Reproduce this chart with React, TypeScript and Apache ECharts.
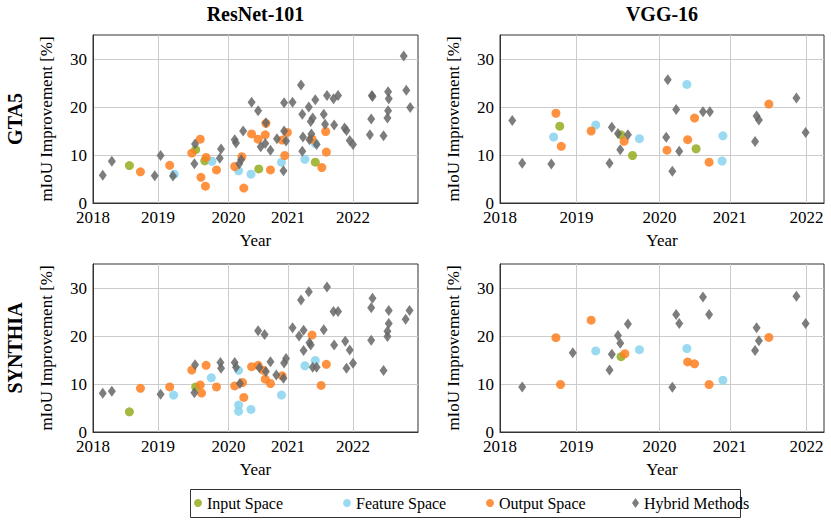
import React, { useEffect, useRef } from "react";
import * as echarts from "echarts";

const categories = ["Input Space", "Feature Space", "Output Space", "Hybrid Methods"];
const colors = ["#93ad1e", "#87d3ef", "#ff7f1e", "#666666"];
const modelTitles = ["ResNet-101", "VGG-16"];
const datasetTitles = ["GTA5", "SYNTHIA"];
const xTickValues = [2018, 2019, 2020.083, 2021, 2022];
const yTickValues = [0, 10, 20, 30];

// ResNet-101 / GTA5
const resGtaInput = [[2018.56, 7.8], [2019.58, 11.1], [2019.72, 8.8], [2020.55, 7.1], [2021.42, 8.5]];
const resGtaFeature = [[2019.25, 6.0], [2019.83, 8.7], [2020.24, 6.7], [2020.43, 6.0], [2020.9, 8.5], [2021.26, 9.1], [2021.42, 12.4]];
const resGtaOutput = [[2018.73, 6.5], [2019.18, 7.85], [2019.52, 10.4], [2019.65, 13.3], [2019.74, 9.5], [2019.66, 5.35], [2019.73, 3.5], [2019.9, 6.9], [2020.18, 7.6], [2020.29, 9.65], [2020.32, 3.1], [2020.44, 14.4], [2020.54, 13.3], [2020.65, 14.2], [2020.66, 16.6], [2020.73, 6.9], [2020.91, 13.1], [2020.99, 14.7], [2020.95, 9.9], [2021.37, 13.3], [2021.58, 14.9], [2021.59, 10.6], [2021.52, 7.4]];
const resGtaHybrid = [[2018.15, 5.8], [2018.29, 8.7], [2018.95, 5.7], [2019.04, 9.9], [2019.23, 5.6], [2019.56, 8.2], [2019.57, 12.3], [2019.97, 11.25], [2019.95, 9.3], [2020.18, 13.2], [2020.2, 12.5], [2020.28, 9.0], [2020.25, 8.2], [2020.31, 15.0], [2020.44, 21.0], [2020.54, 19.2], [2020.66, 16.7], [2020.58, 11.7], [2020.65, 12.4], [2020.73, 11.0], [2020.83, 13.4], [2020.94, 20.9], [2021.07, 21.0], [2020.94, 15.0], [2020.97, 12.9], [2020.93, 6.7], [2021.2, 24.6], [2021.32, 20.0], [2021.22, 18.5], [2021.42, 21.5], [2021.35, 17.0], [2021.38, 17.7], [2021.23, 13.75], [2021.36, 14.4], [2021.33, 13.2], [2021.44, 12.2], [2021.55, 18.5], [2021.57, 16.4], [2021.6, 22.4], [2021.7, 21.7], [2021.71, 16.25], [2021.22, 10.8], [2021.77, 22.4], [2021.87, 15.6], [2021.9, 15.1], [2021.95, 13.0], [2022.0, 12.2], [2022.26, 14.2], [2022.28, 17.5], [2022.29, 22.4], [2022.3, 22.2], [2022.47, 14.0], [2022.54, 23.2], [2022.55, 21.7], [2022.54, 19.2], [2022.53, 17.7], [2022.78, 30.6], [2022.82, 23.5], [2022.88, 19.9]];

// VGG-16 / GTA5
const vggGtaInput = [[2018.78, 16.0], [2019.58, 14.2], [2019.73, 9.9], [2020.56, 11.3]];
const vggGtaFeature = [[2018.7, 13.75], [2019.25, 16.25], [2019.82, 13.4], [2020.44, 24.7], [2020.91, 14.0], [2020.9, 8.75]];
const vggGtaOutput = [[2018.73, 18.7], [2018.8, 11.8], [2019.19, 15.0], [2019.62, 12.85], [2020.18, 11.0], [2020.45, 13.2], [2020.54, 17.7], [2020.73, 8.5], [2021.51, 20.6]];
const vggGtaHybrid = [[2018.16, 17.2], [2018.29, 8.3], [2018.67, 8.1], [2019.43, 8.3], [2019.46, 15.8], [2019.54, 14.5], [2019.57, 11.1], [2019.67, 14.2], [2020.19, 25.7], [2020.17, 13.7], [2020.3, 19.5], [2020.34, 10.8], [2020.25, 6.6], [2020.65, 19.0], [2020.74, 19.0], [2021.33, 12.8], [2021.35, 18.1], [2021.38, 17.3], [2021.87, 21.9], [2021.99, 14.7]];

// ResNet-101 / SYNTHIA
const resSynInput = [[2018.56, 4.2], [2019.58, 9.4]];
const resSynFeature = [[2019.24, 7.7], [2019.82, 11.3], [2020.24, 12.85], [2020.24, 5.6], [2020.24, 4.3], [2020.43, 4.7], [2020.9, 7.7], [2021.26, 13.8], [2021.42, 14.9]];
const resSynOutput = [[2018.73, 9.1], [2019.18, 9.4], [2019.52, 12.9], [2019.74, 13.9], [2019.65, 9.8], [2019.67, 8.1], [2019.9, 9.4], [2020.18, 9.6], [2020.3, 10.3], [2020.32, 7.2], [2020.44, 13.6], [2020.54, 13.9], [2020.62, 12.85], [2020.65, 11.0], [2020.73, 10.1], [2020.91, 11.7], [2021.37, 20.2], [2021.59, 14.1], [2021.51, 9.7]];
const resSynHybrid = [[2018.15, 8.05], [2018.29, 8.5], [2019.04, 7.85], [2019.56, 8.2], [2019.57, 14.0], [2019.96, 14.5], [2019.97, 13.3], [2020.18, 14.5], [2020.2, 13.5], [2020.26, 10.1], [2020.54, 21.1], [2020.64, 20.3], [2020.56, 13.4], [2020.66, 12.6], [2020.73, 14.65], [2020.82, 11.9], [2020.93, 11.2], [2020.94, 14.4], [2020.97, 15.3], [2021.07, 21.7], [2021.17, 20.0], [2021.24, 21.2], [2021.2, 27.5], [2021.32, 29.2], [2021.33, 18.6], [2021.35, 18.1], [2021.24, 17.0], [2021.38, 13.5], [2021.44, 13.5], [2021.55, 21.3], [2021.6, 30.2], [2021.71, 18.1], [2021.7, 25.1], [2021.77, 25.1], [2021.88, 18.9], [2021.95, 17.1], [2022.0, 14.3], [2021.9, 13.3], [2022.28, 19.1], [2022.28, 25.9], [2022.3, 27.85], [2022.47, 12.8], [2022.53, 19.9], [2022.53, 21.0], [2022.55, 22.6], [2022.55, 25.3], [2022.81, 23.5], [2022.87, 25.3]];

// VGG-16 / SYNTHIA
const vggSynInput = [[2019.58, 15.7]];
const vggSynFeature = [[2019.25, 16.9], [2019.82, 17.15], [2020.44, 17.4], [2020.91, 10.8]];
const vggSynOutput = [[2018.73, 19.65], [2018.79, 9.9], [2019.19, 23.3], [2019.63, 16.3], [2020.45, 14.6], [2020.54, 14.2], [2020.73, 9.9], [2021.51, 19.7]];
const vggSynHybrid = [[2018.29, 9.4], [2018.95, 16.5], [2019.43, 12.9], [2019.46, 16.2], [2019.54, 20.1], [2019.57, 18.5], [2019.67, 22.5], [2020.25, 9.3], [2020.3, 24.5], [2020.34, 22.6], [2020.65, 28.1], [2020.73, 24.5], [2021.33, 17.0], [2021.35, 21.7], [2021.38, 19.0], [2021.87, 28.3], [2021.99, 22.6]];

const panelData = [
  [resGtaInput, resGtaFeature, resGtaOutput, resGtaHybrid],
  [vggGtaInput, vggGtaFeature, vggGtaOutput, vggGtaHybrid],
  [resSynInput, resSynFeature, resSynOutput, resSynHybrid],
  [vggSynInput, vggSynFeature, vggSynOutput, vggSynHybrid],
];
const xMax = [2023, 2022.23, 2023, 2022.23];

const FONT = "Liberation Serif";

export default function App() {
  const ref = useRef<HTMLDivElement>(null);
  useEffect(() => {
    if (!ref.current) return;
    const chart = echarts.init(ref.current, null, { renderer: "svg" });
    const grids = [
      { left: 93, top: 35, width: 325, height: 168 },
      { left: 500, top: 35, width: 324, height: 168 },
      { left: 93, top: 264, width: 325, height: 168 },
      { left: 500, top: 264, width: 324, height: 168 },
    ].map((g) => ({ ...g, show: true, borderColor: "#333", borderWidth: 1, backgroundColor: "transparent" }));

    const xAxes = grids.map((_, i) => ({
      type: "value",
      gridIndex: i,
      min: 2018,
      max: xMax[i],
      name: "Year",
      nameLocation: "middle",
      nameGap: 29,
      nameTextStyle: { fontFamily: FONT, fontSize: 17, color: "#000" },
      axisLine: { show: true, onZero: false, lineStyle: { color: "#333" } },
      axisTick: { show: false, customValues: xTickValues },
      axisLabel: {
        customValues: xTickValues,
        formatter: (v: number) => String(Math.round(v)),
        fontFamily: FONT,
        fontSize: 17,
        lineHeight: 12,
        color: "#000",
        margin: 8,
      },
      splitLine: { show: true, lineStyle: { color: "#cccccc", width: 1 } },
    }));
    const yAxes = grids.map((_, i) => ({
      type: "value",
      gridIndex: i,
      min: 0,
      max: 35,
      name: "mIoU Improvement [%]",
      nameLocation: "middle",
      nameGap: 38,
      nameTextStyle: { fontFamily: FONT, fontSize: 17, color: "#000" },
      axisLine: { show: true, lineStyle: { color: "#333" } },
      axisTick: { show: false, customValues: yTickValues },
      axisLabel: { customValues: yTickValues, fontFamily: FONT, fontSize: 17, lineHeight: 12, color: "#000", margin: 6 },
      splitLine: { show: true, lineStyle: { color: "#cccccc", width: 1 } },
    }));

    const series: any[] = [];
    panelData.forEach((cats, p) => {
      cats.forEach((data, c) => {
        series.push({
          type: "scatter",
          name: categories[c],
          xAxisIndex: p,
          yAxisIndex: p,
          data,
          symbol: c === 3 ? "diamond" : "circle",
          symbolSize: c === 3 ? [8, 11] : 9,
          itemStyle: { color: colors[c], opacity: 0.85 },
          emphasis: { disabled: true },
        });
      });
    });

    const legendLefts = [194, 343, 486, 632];
    const legends = categories.map((name, c) => ({
      data: [{ name, icon: c === 3 ? "diamond" : "circle" }],
      left: legendLefts[c],
      top: 495,
      itemWidth: c === 3 ? 7 : 8,
      itemHeight: c === 3 ? 10 : 8,
      itemGap: 0,
      padding: 0,
      textStyle: { fontFamily: FONT, fontSize: 16, color: "#000" },
      selectedMode: false,
    }));

    const titleFont = `bold 20px "${FONT}"`;
    chart.setOption({
      animation: false,
      backgroundColor: "#fff",
      grid: grids,
      xAxis: xAxes,
      yAxis: yAxes,
      series,
      legend: legends,
      graphic: [
        { type: "text", x: 255.5, y: 14, style: { text: modelTitles[0], font: titleFont, fill: "#000", align: "center", verticalAlign: "middle" } },
        { type: "text", x: 662, y: 14, style: { text: modelTitles[1], font: titleFont, fill: "#000", align: "center", verticalAlign: "middle" } },
        { type: "text", x: 15, y: 119, rotation: Math.PI / 2, style: { text: datasetTitles[0], font: titleFont, fill: "#000", align: "center", verticalAlign: "middle" } },
        { type: "text", x: 15, y: 348, rotation: Math.PI / 2, style: { text: datasetTitles[1], font: titleFont, fill: "#000", align: "center", verticalAlign: "middle" } },
        { type: "rect", shape: { x: 190.5, y: 489.5, width: 550, height: 28 }, style: { fill: "none", stroke: "#333", lineWidth: 1 } },
      ],
    });
    return () => chart.dispose();
  }, []);
  return <div ref={ref} style={{ position: "absolute", left: 0, top: 0, width: 831, height: 520 }} />;
}
